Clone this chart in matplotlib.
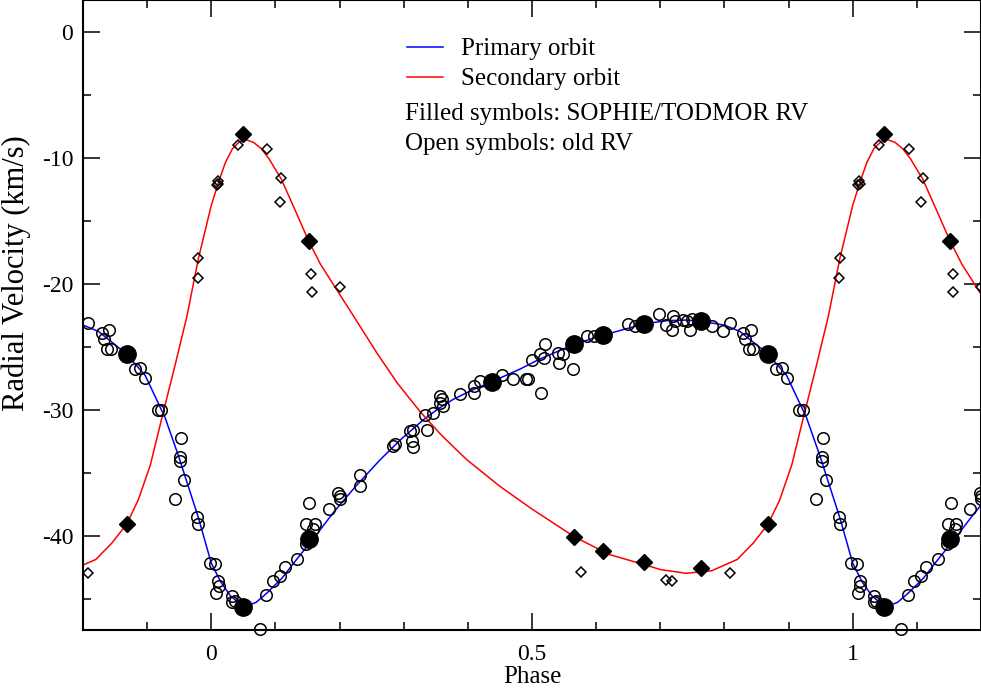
import matplotlib
matplotlib.use("Agg")
import matplotlib.pyplot as plt
import numpy as np
from matplotlib.ticker import MultipleLocator, FuncFormatter

# orbit model curves, phase 0..1 (repeated each cycle)
prim_phase = [0.0, 0.015, 0.03, 0.042, 0.055, 0.07, 0.086, 0.11, 0.133, 0.16, 0.19,
              0.225, 0.263, 0.295, 0.331, 0.355, 0.377, 0.405, 0.437, 0.481, 0.512,
              0.567, 0.611, 0.675, 0.71, 0.741, 0.764, 0.8, 0.824, 0.868, 0.897,
              0.928, 0.949, 0.961, 0.98, 1.0]
prim_rv = [-42.2, -43.7, -44.8, -45.3, -45.6, -45.3, -44.6, -43.4, -41.9, -40.2, -38.2,
           -36.1, -34.0, -32.4, -30.8, -29.9, -29.2, -28.5, -27.8, -26.8, -26.0,
           -24.8, -24.1, -23.2, -22.95, -22.9, -23.0, -23.3, -23.8, -25.6, -27.3,
           -30.65, -33.7, -35.6, -38.6, -42.2]

sec_phase = [0.0, 0.011, 0.022, 0.033, 0.044, 0.055, 0.066, 0.078, 0.09, 0.109, 0.13,
             0.152, 0.17, 0.193, 0.217, 0.258, 0.29, 0.326, 0.36, 0.398, 0.45, 0.5,
             0.566, 0.62, 0.674, 0.7, 0.74, 0.78, 0.82, 0.845, 0.868, 0.886, 0.905,
             0.925, 0.943, 0.962, 0.98, 1.0]
sec_rv = [-13.8, -12.0, -10.4, -9.3, -8.75, -8.6, -8.8, -9.3, -10.1, -11.7, -14.1,
          -16.65, -18.45, -20.3, -22.2, -25.5, -27.9, -30.2, -32.1, -33.97, -36.1, -37.9,
          -40.1, -41.5, -42.3, -42.7, -43.0, -42.8, -41.9, -40.6, -39.1, -37.2, -34.4,
          -30.25, -26.6, -22.6, -18.0, -13.8]

# SOPHIE/TODMOR RVs (filled)
new_prim_phase = [0.049, 0.152, 0.437, 0.566, 0.611, 0.675, 0.764, 0.868]
new_prim_rv = [-45.7, -40.3, -27.8, -24.8, -24.1, -23.2, -23.0, -25.6]
new_sec_phase = [0.049, 0.152, 0.566, 0.611, 0.674, 0.764, 0.868]
new_sec_rv = [-8.1, -16.65, -40.1, -41.2, -42.1, -42.6, -39.1]

# old RVs (open)
old_prim_phase = [0.808, 0.829, 0.841, 0.832, 0.838, 0.844, 0.881, 0.889, 0.897, 0.917,
                  0.922, 0.953, 0.952, 0.952, 0.958, 0.943, 0.978, 0.980, 0.998, 0.006,
                  0.011, 0.008, 0.012, 0.033, 0.037, 0.033, 0.076, 0.086, 0.096, 0.107,
                  0.115, 0.133, 0.153, 0.148, 0.161, 0.159, 0.147, 0.183, 0.198, 0.200,
                  0.200, 0.232, 0.232, 0.283, 0.287, 0.310, 0.314, 0.313, 0.314, 0.337,
                  0.333, 0.346, 0.357, 0.359, 0.361, 0.357, 0.388, 0.409, 0.410, 0.419,
                  0.453, 0.471, 0.491, 0.494, 0.514, 0.500, 0.512, 0.518, 0.520, 0.541,
                  0.542, 0.549, 0.564, 0.585, 0.596, 0.649, 0.660, 0.698, 0.709, 0.718,
                  0.720, 0.723, 0.735, 0.741, 0.746, 0.749, 0.780, 0.797]
old_prim_rv = [-23.1, -23.9, -23.7, -24.4, -25.2, -25.2, -26.8, -26.7, -27.5, -30.0,
               -30.0, -32.3, -33.8, -34.1, -35.6, -37.1, -38.5, -39.1, -42.2, -42.3,
               -43.6, -44.6, -44.0, -44.8, -45.2, -45.3, -47.4, -44.7, -43.6, -43.2,
               -42.5, -41.9, -37.4, -39.1, -39.1, -39.5, -40.7, -37.9, -36.6, -36.9,
               -37.1, -35.2, -36.1, -32.9, -32.7, -31.7, -31.6, -32.5, -33.0, -31.6,
               -30.4, -30.3, -28.9, -29.2, -29.7, -29.5, -28.8, -28.7, -28.1, -27.7,
               -27.3, -27.55, -27.55, -27.6, -28.7, -26.1, -25.6, -25.9, -24.8, -25.5,
               -26.3, -25.6, -26.75, -24.2, -24.2, -23.2, -23.4, -22.4, -23.3, -23.7,
               -22.6, -23.0, -22.9, -23.0, -23.7, -22.8, -23.4, -23.8]
old_sec_phase = [0.041, 0.087, 0.109, 0.107, 0.010, 0.009, 0.011, 0.980, 0.979, 0.156,
                 0.157, 0.200, 0.576, 0.709, 0.718, 0.808]
old_sec_rv = [-9.04, -9.36, -11.6, -13.55, -11.83, -12.17, -12.09, -17.98, -19.57, -19.25,
              -20.66, -20.26, -42.9, -43.5, -43.6, -43.0]

XMIN, XMAX = -0.2, 1.2
YMIN, YMAX = -47.5, 2.5


def tile_curve(ph, rv):
    # repeat one cycle over the plotted phase range
    ph = np.asarray(ph)
    rv = np.asarray(rv)
    xs = np.concatenate([ph - 1, ph[1:], ph[1:] + 1])
    ys = np.concatenate([rv, rv[1:], rv[1:]])
    return xs, ys


def tile_points(ph, rv):
    ph = np.asarray(ph)
    rv = np.asarray(rv)
    xs = np.concatenate([ph - 1, ph, ph + 1])
    ys = np.concatenate([rv, rv, rv])
    keep = (xs >= XMIN) & (xs <= XMAX)
    return xs[keep], ys[keep]


plt.rcParams["font.family"] = ["Liberation Serif", "DejaVu Serif"]
plt.rcParams["axes.unicode_minus"] = False

fig = plt.figure(figsize=(9.81, 6.92), dpi=100)
ax = fig.add_axes([83 / 981, 62 / 692, 898 / 981, 630 / 692])

x, y = tile_curve(prim_phase, prim_rv)
ax.plot(x, y, color="#0000ff", lw=1.1, zorder=2)
x, y = tile_curve(sec_phase, sec_rv)
ax.plot(x, y, color="#ff0000", lw=1.1, zorder=2)

x, y = tile_points(old_prim_phase, old_prim_rv)
ax.plot(x, y, "o", ms=8.3, mfc="none", mec="black", mew=1.1, clip_on=False, zorder=3)
x, y = tile_points(old_sec_phase, old_sec_rv)
ax.plot(x, y, "D", ms=5.6, mfc="none", mec="black", mew=1.1, clip_on=False, zorder=3)
x, y = tile_points(new_prim_phase, new_prim_rv)
ax.plot(x, y, "o", ms=12.5, color="black", clip_on=False, zorder=4)
x, y = tile_points(new_sec_phase, new_sec_rv)
ax.plot(x, y, "D", ms=8.0, color="black", clip_on=False, zorder=4)

ax.set_xlim(XMIN, XMAX)
ax.set_ylim(YMIN, YMAX)
ax.xaxis.set_major_locator(MultipleLocator(0.5))
ax.xaxis.set_minor_locator(MultipleLocator(0.1))
ax.yaxis.set_major_locator(MultipleLocator(10))
ax.yaxis.set_minor_locator(MultipleLocator(5))
ax.xaxis.set_major_formatter(FuncFormatter(lambda v, p: "%g" % round(v, 3)))
ax.yaxis.set_major_formatter(FuncFormatter(lambda v, p: "%g" % round(v, 3)))
ax.tick_params(which="both", direction="in", top=True, right=True, width=1.1,
               labelsize=17, pad=7)
ax.tick_params(axis="x", which="both", pad=10)
ax.tick_params(which="major", length=12)
ax.tick_params(which="minor", length=6)
for sp in ax.spines.values():
    sp.set_linewidth(1.5)

ax.set_xlabel("Phase", fontsize=18, labelpad=1)
ax.set_ylabel("Radial Velocity (km/s)", fontsize=22)
ax.yaxis.set_label_coords(-0.058, 0.566)

# legend drawn by hand, as in the original
ax.plot([0.361, 0.401], [0.925, 0.925], color="#0000ff", lw=1.1, transform=ax.transAxes)
ax.plot([0.361, 0.401], [0.877, 0.877], color="#ff0000", lw=1.1, transform=ax.transAxes)
ax.text(0.421, 0.922, "Primary orbit", transform=ax.transAxes, fontsize=18, va="center")
ax.text(0.421, 0.875, "Secondary orbit", transform=ax.transAxes, fontsize=18, va="center")
ax.text(0.3586, 0.819, "Filled symbols: SOPHIE/TODMOR RV", transform=ax.transAxes,
        fontsize=18, va="center")
ax.text(0.3586, 0.772, "Open symbols: old RV", transform=ax.transAxes, fontsize=18,
        va="center")

fig.savefig("out.png", dpi=100)
